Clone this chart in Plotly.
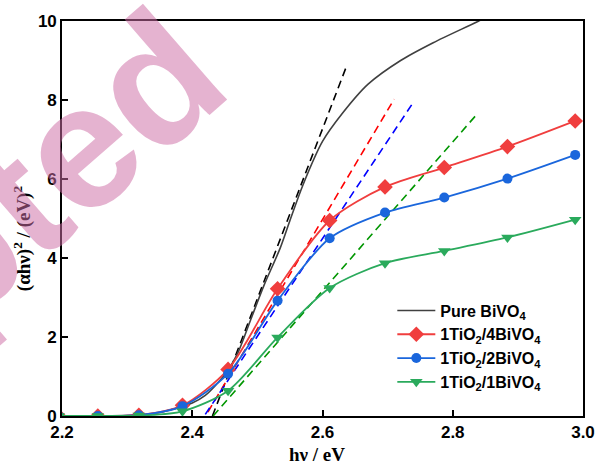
import plotly.graph_objects as go

# Photon energy (eV) at the sampled points of the doped films
energy = [2.195, 2.255, 2.318, 2.385, 2.455, 2.531, 2.611, 2.696, 2.787, 2.884, 2.988]

# (alpha h nu)^2 for each composite
tio2_4bivo4 = [0.0, 0.0, 0.02, 0.27, 1.18, 3.22, 4.95, 5.80, 6.29, 6.82, 7.47]
tio2_2bivo4 = [0.0, 0.0, 0.02, 0.25, 1.07, 2.92, 4.50, 5.15, 5.53, 6.01, 6.61]
tio2_1bivo4 = [0.0, 0.0, 0.01, 0.12, 0.64, 1.99, 3.24, 3.87, 4.18, 4.52, 4.97]

# Pure BiVO4 curve
pure_energy = [2.195, 2.255, 2.318, 2.35, 2.37, 2.40, 2.42, 2.45, 2.47, 2.49,
               2.51, 2.535, 2.55, 2.57, 2.60, 2.63, 2.67, 2.72, 2.77, 2.84, 2.87]
pure_bivo4 = [0.0, 0.0, 0.03, 0.09, 0.17, 0.33, 0.52, 1.05, 1.6, 2.45,
              3.3, 4.25, 4.95, 5.85, 6.95, 7.65, 8.40, 9.00, 9.45, 10.0, 10.25]

# Tangent (Tauc extrapolation) lines: [x0, x1], [y0, y1]
tangent_pure = ([2.431, 2.637], [0.0, 8.86])
tangent_4 = ([2.424, 2.710], [0.10, 8.02])
tangent_2 = ([2.420, 2.737], [0.04, 7.88])
tangent_1 = ([2.432, 2.835], [0.0, 7.60])

x_ticks = [2.2, 2.4, 2.6, 2.8, 3.0]
x_tick_text = ["2.2", "2.4", "2.6", "2.8", "3.0"]
y_ticks = [0, 2, 4, 6, 8, 10]

RED = "rgb(240,62,62)"
BLUE = "rgb(26,102,220)"
GREEN = "rgb(42,170,92)"
GREY = "rgb(64,64,64)"

fig = go.Figure()

for (xs, ys), col in [(tangent_pure, "black"), (tangent_4, "rgb(255,0,0)"),
                      (tangent_2, "rgb(0,0,255)"), (tangent_1, "rgb(0,150,0)")]:
    fig.add_trace(go.Scatter(x=xs, y=ys, mode="lines", showlegend=False,
                             line=dict(color=col, width=1.6, dash="8px,5px"),
                             hoverinfo="skip"))

fig.add_trace(go.Scatter(x=pure_energy, y=pure_bivo4, mode="lines",
                         name="Pure BiVO<sub>4</sub>",
                         line=dict(color=GREY, width=1.6, shape="spline", smoothing=0.8)))
fig.add_trace(go.Scatter(x=energy, y=tio2_4bivo4, mode="lines+markers",
                         name="1TiO<sub>2</sub>/4BiVO<sub>4</sub>",
                         line=dict(color=RED, width=1.8, shape="spline", smoothing=0.8),
                         marker=dict(symbol="diamond", size=12, color=RED)))
fig.add_trace(go.Scatter(x=energy, y=tio2_2bivo4, mode="lines+markers",
                         name="1TiO<sub>2</sub>/2BiVO<sub>4</sub>",
                         line=dict(color=BLUE, width=1.8, shape="spline", smoothing=0.8),
                         marker=dict(symbol="circle", size=10, color=BLUE)))
fig.add_trace(go.Scatter(x=energy, y=tio2_1bivo4, mode="lines+markers",
                         name="1TiO<sub>2</sub>/1BiVO<sub>4</sub>",
                         line=dict(color=GREEN, width=1.8, shape="spline", smoothing=0.8),
                         marker=dict(symbol="triangle-down", size=11, color=GREEN)))

tick_font = dict(family="Liberation Sans, Arial", size=17, color="black", weight="bold")
axis_common = dict(showline=True, linecolor="black", linewidth=1.6, mirror=True,
                   ticks="inside", ticklen=6, tickwidth=1.6, tickcolor="black",
                   showgrid=False, zeroline=False, tickfont=tick_font, automargin=False)

fig.update_layout(
    width=596, height=469,
    margin=dict(l=62, r=13, t=21, b=53, autoexpand=False),
    paper_bgcolor="white", plot_bgcolor="white",
    xaxis=dict(range=[2.2, 3.0], tickvals=x_ticks, ticktext=x_tick_text, **axis_common),
    yaxis=dict(range=[0, 10], tickvals=y_ticks, **axis_common),
    legend=dict(x=0.634, y=0.31, xanchor="left", yanchor="top", itemwidth=38,
                bgcolor="rgba(0,0,0,0)", borderwidth=0,
                font=dict(family="Liberation Sans, Arial", size=16, color="black", weight="bold"),
                tracegroupgap=0),
    showlegend=True,
)

title_font = dict(family="Liberation Serif, Times New Roman", size=19, color="black", weight="bold")
fig.add_annotation(text="hν / eV", xref="paper", yref="paper", x=0.49, y=-0.097,
                   xanchor="center", yanchor="middle", showarrow=False, font=title_font)
fig.add_annotation(text="(αhν)<sup>2</sup> / (eV)<sup>2</sup>", xref="paper", yref="paper",
                   x=-0.077, y=0.45, xanchor="center", yanchor="middle", textangle=-90,
                   showarrow=False, font=title_font)

# Journal watermark
fig.add_annotation(text="Accepted", xref="paper", yref="paper", x=-0.317, y=0.278,
                   xanchor="center", yanchor="middle", textangle=-41, showarrow=False,
                   font=dict(family="Liberation Sans, Arial", size=176,
                             color="rgba(205,110,165,0.52)", weight="bold"))

fig.write_html("out.html")
